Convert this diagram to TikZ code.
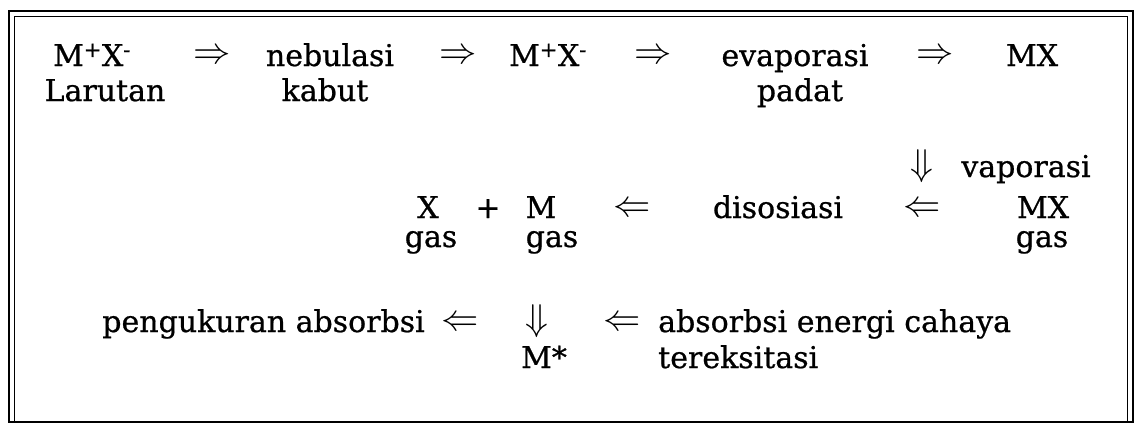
\documentclass[tikz,border=0pt]{standalone}
\usepackage{fontspec}
\setmainfont[FakeBold=0.7]{DejaVu Serif}
\newcommand{\RA}{\scalebox{1.5}{$\Rightarrow$}}
\newcommand{\LA}{\scalebox{1.5}{$\Leftarrow$}}
\newcommand{\DA}{\scalebox{1.5}{$\Downarrow$}}
\begin{document}
\begin{tikzpicture}[x=1pt,y=-1pt,
  lbl/.style={anchor=base,inner sep=0pt,font=\fontsize{30}{36}\selectfont},
  sym/.style={anchor=center,inner sep=0pt,font=\fontsize{24}{28}\selectfont},
  outerline/.style={line width=2.6pt},
  innerline/.style={line width=0.9pt}]
\useasboundingbox (0,0) rectangle (1140,424);
\draw[outerline] (9,11) rectangle (1133,422);
\draw[innerline] (14.5,421) -- (14.5,16.5) -- (1127.5,16.5) -- (1127.5,421);
% row 1
\node[lbl] (mxa) at (92,66) {M\textsuperscript{+}X\textsuperscript{-}};
\node[sym] (r1) at (212,57) {\RA};
\node[lbl] (neb) at (330,66) {nebulasi};
\node[sym] (r2) at (458,57) {\RA};
\node[lbl] (mxb) at (548,66) {M\textsuperscript{+}X\textsuperscript{-}};
\node[sym] (r3) at (653,57) {\RA};
\node[lbl] (eva) at (795,66) {evaporasi};
\node[sym] (r4) at (935,57) {\RA};
\node[lbl] (mxc) at (1032,66) {MX};
% row 2
\node[lbl] (lar) at (105,101) {Larutan};
\node[lbl] (kab) at (325,101) {kabut};
\node[lbl] (pad) at (800,101) {padat};
% row 3
\node[sym] (d1) at (922,166) {\DA};
\node[lbl] (vap) at (1026,177) {vaporasi};
% row 4
\node[lbl] (xg) at (428,218) {X};
\node[lbl] (plus) at (488,218) {+};
\node[lbl] (mg) at (541,218) {M};
\node[sym] (l1) at (632,210) {\LA};
\node[lbl] (dis) at (778,218) {disosiasi};
\node[sym] (l2) at (922,210) {\LA};
\node[lbl] (mxd) at (1043,218) {MX};
% row 5
\node[lbl] (g1) at (431,247) {gas};
\node[lbl] (g2) at (552,247) {gas};
\node[lbl] (g3) at (1042,247) {gas};
% row 6
\node[lbl,anchor=base east] (peng) at (425,332) {pengukuran absorbsi};
\node[sym] (l3) at (460,324) {\LA};
\node[sym] (d2) at (537,321) {\DA};
\node[sym] (l4) at (622,324) {\LA};
\node[lbl,anchor=base west] (abs) at (658,332) {absorbsi energi cahaya};
% row 7
\node[lbl] (ms) at (544,368) {M*};
\node[lbl,anchor=base west] (ter) at (658,368) {tereksitasi};
\end{tikzpicture}
\end{document}
